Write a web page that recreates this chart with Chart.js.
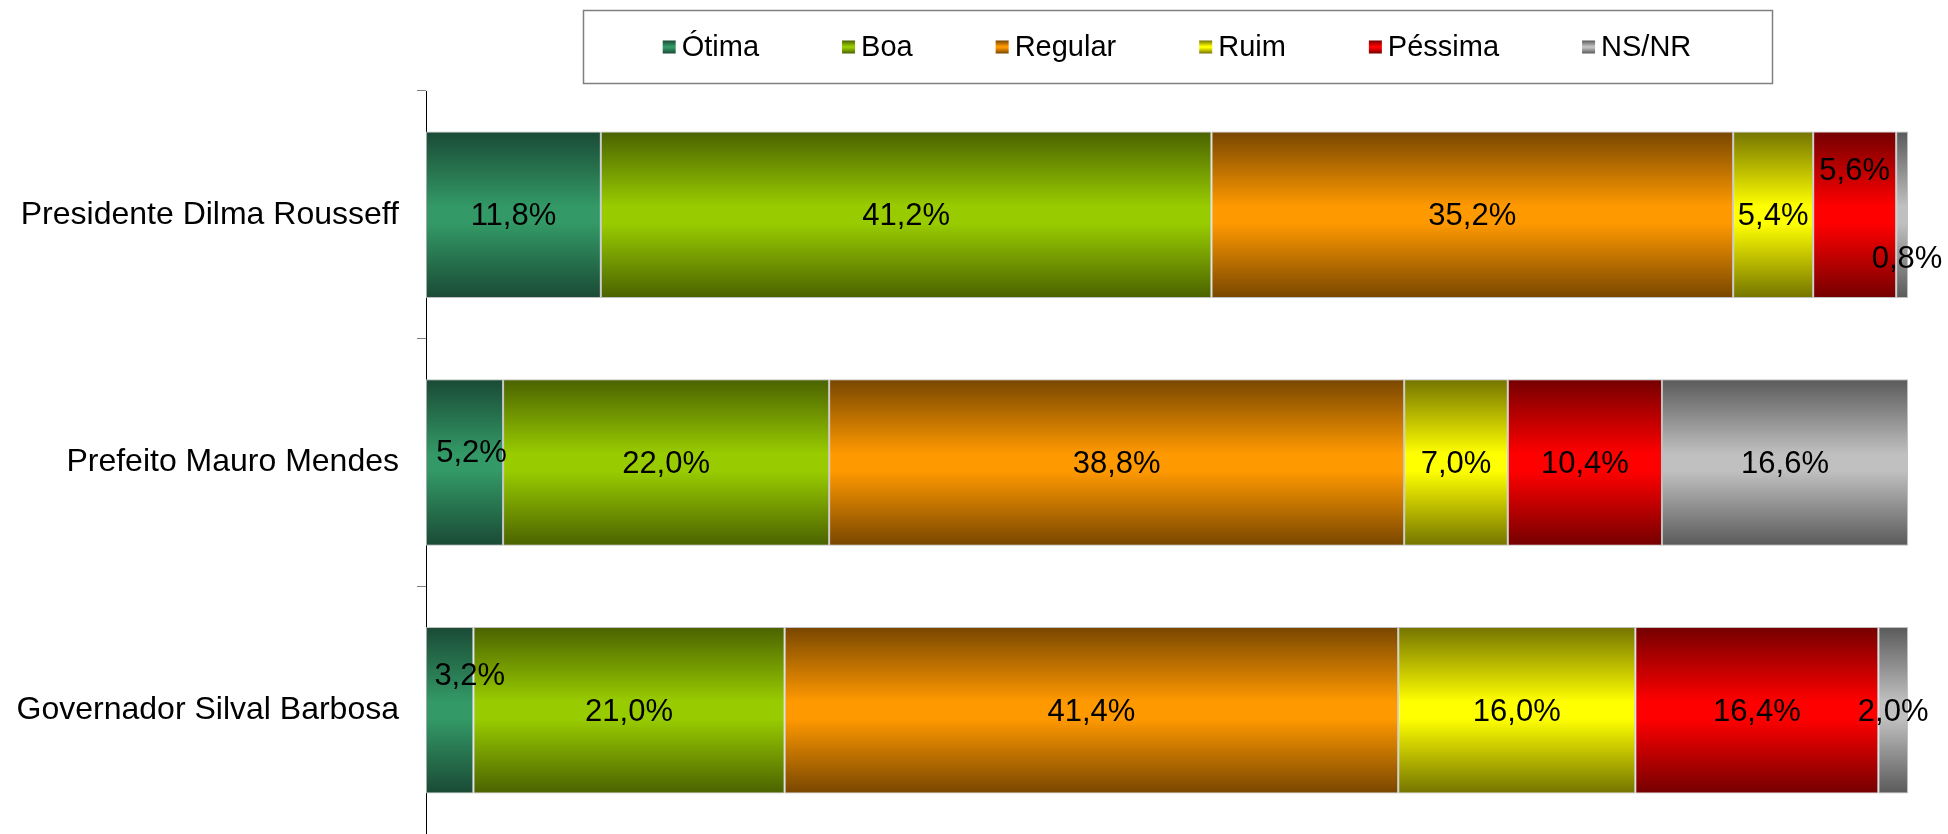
<!DOCTYPE html>
<html lang="pt-BR">
<head>
  <meta charset="UTF-8">
  <title>Avaliação de gestão</title>
  <style>
    html, body { margin: 0; padding: 0; background: #fff; }
    .chartBox { width: 1948px; height: 834px; position: relative; }
  </style>
</head>
<body>
  <div class="chartBox"><canvas id="avaliacaoChart"></canvas></div>

  <script src="https://cdn.jsdelivr.net/npm/chart.js"></script>
  <script>
    // Data
    const categories = ['Presidente Dilma Rousseff', 'Prefeito Mauro Mendes', 'Governador Silval Barbosa'];
    const seriesNames = ['Ótima', 'Boa', 'Regular', 'Ruim', 'Péssima', 'NS/NR'];

    const otima   = [11.8, 5.2, 3.2];
    const boa     = [41.2, 22.0, 21.0];
    const regular = [35.2, 38.8, 41.4];
    const ruim    = [5.4, 7.0, 16.0];
    const pessima = [5.6, 10.4, 16.4];
    const nsnr    = [0.8, 16.6, 2.0];

    const seriesValues = [otima, boa, regular, ruim, pessima, nsnr];

    // [edge colour, centre colour] for the Excel-style "from centre" gradient
    const palette = [
      ['#1a4a35', '#339966'],
      ['#4a6200', '#99cc00'],
      ['#784600', '#ff9900'],
      ['#747400', '#ffff00'],
      ['#740000', '#ff0000'],
      ['#5a5a5a', '#c0c0c0']
    ];

    const FONT = "'Liberation Sans', Arial, sans-serif";
    const BAR_PCT = 0.672;

    // a few labels were moved by hand in the original: "dataset-category" -> [dx, dy]
    const labelNudge = {
      '4-0': [0, -45],
      '5-0': [5, 43],
      '0-1': [7, -11],
      '0-2': [20, -36]
    };

    function fillGradient(c, y0, y1, i) {
      const g = c.createLinearGradient(0, y0, 0, y1);
      g.addColorStop(0, palette[i][0]);
      g.addColorStop(0.45, palette[i][1]);
      g.addColorStop(0.55, palette[i][1]);
      g.addColorStop(1, palette[i][0]);
      return g;
    }

    function barGradient(ctx, i) {
      const chart = ctx.chart;
      const yScale = chart.scales.y;
      if (!chart.chartArea || !yScale || ctx.dataIndex === undefined) return palette[i][1];
      const yc = yScale.getPixelForValue(ctx.dataIndex);
      const half = yScale.height / categories.length * BAR_PCT / 2;
      return fillGradient(chart.ctx, yc - half, yc + half, i);
    }

    // value labels inside the segments
    const barLabels = {
      id: 'barLabels',
      afterDatasetsDraw(chart) {
        const c = chart.ctx;
        c.save();
        c.font = '31px ' + FONT;
        c.fillStyle = '#000';
        c.textAlign = 'center';
        c.textBaseline = 'middle';
        chart.data.datasets.forEach((ds, i) => {
          chart.getDatasetMeta(i).data.forEach((bar, j) => {
            const nudge = labelNudge[i + '-' + j] || [0, 0];
            const x = (bar.x + bar.base) / 2 + nudge[0];
            const y = bar.y + nudge[1];
            c.fillText(ds.data[j].toFixed(1).replace('.', ',') + '%', x, y + 2);
          });
        });
        c.restore();
      }
    };

    // legend in a framed box above the plot
    const boxedLegend = {
      id: 'boxedLegend',
      afterDraw(chart) {
        const c = chart.ctx;
        const area = chart.chartArea;
        const sw = 13, gap = 6, spacing = 83, padX = 80;
        c.save();
        c.font = '29px ' + FONT;
        const widths = seriesNames.map(n => c.measureText(n).width);
        const total = widths.reduce((a, w) => a + sw + gap + w, 0) + spacing * (seriesNames.length - 1);
        const cx = (area.left + area.right) / 2 + 10;
        const cy = 47;
        let x = cx - total / 2;
        c.strokeStyle = '#808080';
        c.lineWidth = 1.5;
        c.strokeRect(Math.round(x - padX) + 0.5, 10.5, Math.round(total + 2 * padX), 73);
        c.textBaseline = 'middle';
        c.textAlign = 'left';
        seriesNames.forEach((n, i) => {
          c.fillStyle = fillGradient(c, cy - sw / 2, cy + sw / 2, i);
          c.fillRect(x, cy - sw / 2, sw, sw);
          c.fillStyle = '#000';
          c.fillText(n, x + sw + gap, cy + 1);
          x += sw + gap + widths[i] + spacing;
        });
        c.restore();
      }
    };

    new Chart(document.getElementById('avaliacaoChart'), {
      type: 'bar',
      data: {
        labels: categories,
        datasets: seriesNames.map((name, i) => ({
          label: name,
          data: seriesValues[i],
          backgroundColor: ctx => barGradient(ctx, i),
          borderColor: 'rgba(185, 185, 185, 0.9)',
          borderWidth: 1,
          borderSkipped: false,
          categoryPercentage: 1,
          barPercentage: BAR_PCT
        }))
      },
      options: {
        indexAxis: 'y',
        responsive: true,
        maintainAspectRatio: false,
        animation: false,
        layout: { padding: { top: 91, right: 40, bottom: 0, left: 0 } },
        plugins: {
          legend: { display: false },
          tooltip: { enabled: false }
        },
        scales: {
          x: { stacked: true, min: 0, max: 100, display: false },
          y: {
            stacked: true,
            afterFit: s => {
              s.width = 426;
              s.paddingTop = 0;
              s.paddingBottom = 0;
            },
            border: { display: true, color: '#000', width: 1 },
            grid: { drawOnChartArea: false, drawTicks: true, tickLength: 9, tickColor: '#808080', offset: true },
            ticks: { color: '#000', font: { family: FONT, size: 32 }, padding: 18 }
          }
        }
      },
      plugins: [barLabels, boxedLegend]
    });
  </script>
</body>
</html>
